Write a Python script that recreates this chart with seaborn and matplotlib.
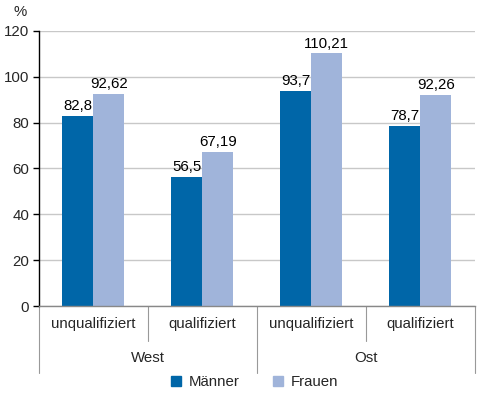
"""Grouped bar chart: Männer vs. Frauen, West/Ost, unqualifiziert/qualifiziert."""

import matplotlib.pyplot as plt
import matplotlib.transforms as mtransforms
import pandas as pd
import seaborn as sns

REGIONS = ["West", "West", "Ost", "Ost"]
QUALIFICATIONS = ["unqualifiziert", "qualifiziert", "unqualifiziert", "qualifiziert"]
MAENNER = [82.8, 56.5, 93.7, 78.7]
FRAUEN = [92.62, 67.19, 110.21, 92.26]
MAENNER_LABELS = ["82,8", "56,5", "93,7", "78,7"]
FRAUEN_LABELS = ["92,62", "67,19", "110,21", "92,26"]
SERIES = ["Männer", "Frauen"]
COLORS = ["#0066a8", "#a0b4da"]
Y_TICKS = [0, 20, 40, 60, 80, 100, 120]

FS = 10.8


def build_frame():
    keys = [f"{r}|{q}" for r, q in zip(REGIONS, QUALIFICATIONS)]
    rows = []
    for name, values in zip(SERIES, [MAENNER, FRAUEN]):
        for key, value in zip(keys, values):
            rows.append({"key": key, "Geschlecht": name, "value": value})
    return pd.DataFrame(rows), keys


def main() -> None:
    sns.set_theme(style="white")
    plt.rcParams["font.family"] = ["Liberation Sans", "DejaVu Sans"]
    plt.rcParams["font.size"] = FS

    df, keys = build_frame()

    fig = plt.figure(figsize=(4.85, 3.96), dpi=100)
    ax = fig.add_axes([0.080, 0.227, 0.899, 0.695])

    sns.barplot(
        data=df, x="key", y="value", hue="Geschlecht", order=keys,
        hue_order=SERIES, palette=COLORS, width=0.57, saturation=1,
        ax=ax, legend=False, linewidth=0,
    )

    for container, labels in zip(ax.containers, [MAENNER_LABELS, FRAUEN_LABELS]):
        ax.bar_label(container, labels=labels, padding=2, fontsize=FS, color="black")

    ax.set_ylim(0, 120)
    ax.set_xlim(-0.5, len(keys) - 0.5)
    ax.set_yticks(Y_TICKS)
    ax.set_yticklabels([str(t) for t in Y_TICKS], fontsize=FS)
    ax.yaxis.grid(True, color="#c8c8c8", linewidth=1)
    ax.set_axisbelow(True)
    ax.tick_params(axis="y", length=4, width=1, color="black", left=True, pad=3)
    ax.set_xticks([])
    ax.set_xlabel("")
    ax.set_ylabel("")

    for side in ["top", "right"]:
        ax.spines[side].set_visible(False)
    ax.spines["left"].set_color("black")
    ax.spines["left"].set_linewidth(1)
    ax.spines["bottom"].set_color("#888888")
    ax.spines["bottom"].set_linewidth(1)

    # two-level category axis below the plot
    trans = mtransforms.blended_transform_factory(ax.transData, ax.transAxes)
    line_kw = dict(color="#999999", linewidth=0.8, transform=trans, clip_on=False)
    for x in [-0.5, 1.5, 3.5]:
        ax.plot([x, x], [0, -0.242], **line_kw)
    for x in [0.5, 2.5]:
        ax.plot([x, x], [0, -0.125], **line_kw)

    for i, q in enumerate(QUALIFICATIONS):
        ax.text(i, -0.064, q, transform=trans, ha="center", va="center", fontsize=FS)
    for pos, region in [(0.5, "West"), (2.5, "Ost")]:
        ax.text(pos, -0.188, region, transform=trans, ha="center", va="center", fontsize=FS)

    fig.text(14 / 485, 1 - 12 / 396, "%", ha="left", va="center", fontsize=FS)

    handles = [plt.Rectangle((0, 0), 1, 1, color=c) for c in COLORS]
    fig.legend(
        handles, SERIES, loc="center", bbox_to_anchor=(0.525, 1 - 382 / 396),
        ncol=2, frameon=False, fontsize=FS, handlelength=0.7, handleheight=0.7,
        handletextpad=0.5, columnspacing=2.2, borderpad=0,
    )

    fig.savefig("out.png", dpi=100)
    plt.close(fig)


if __name__ == "__main__":
    main()
